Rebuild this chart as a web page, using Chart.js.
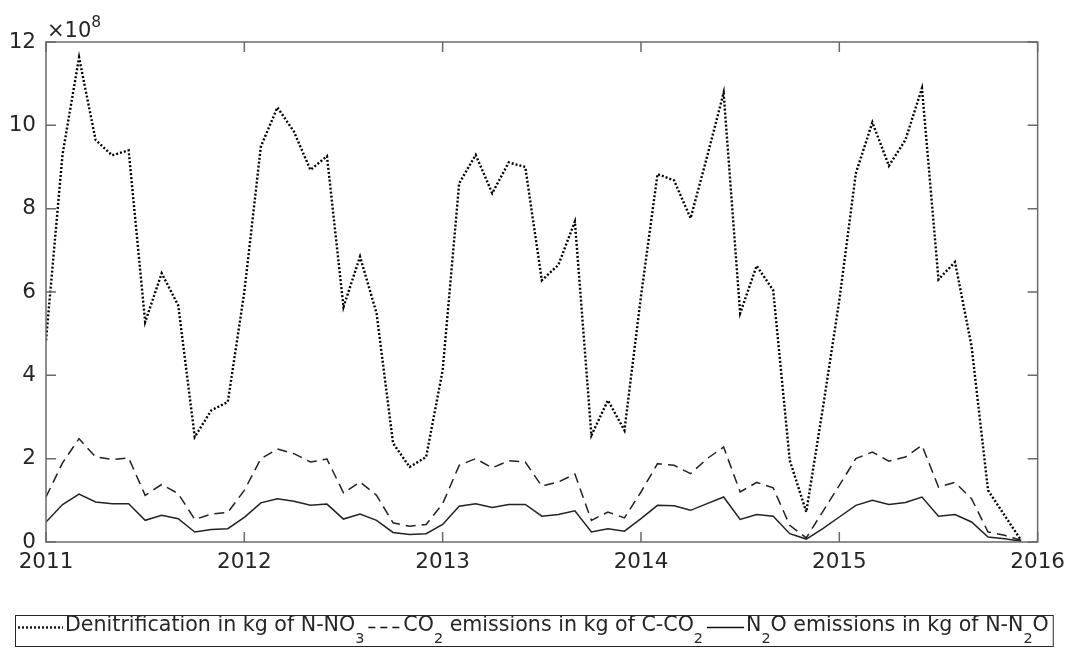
<!DOCTYPE html>
<html>
<head>
<meta charset="utf-8">
<script src="https://cdn.jsdelivr.net/npm/chart.js@4.4.1/dist/chart.umd.min.js"></script>
<style>
  html, body { margin: 0; padding: 0; background: #fff; }
  #wrap { width: 1073px; height: 648px; position: relative; }
</style>
</head>
<body>
<div id="wrap"><canvas id="fig"></canvas></div>
<script>
// monthly values, Jan 2011 .. Dec 2015, in units of 1e8 kg
const startYear = 2011;
const denitrification = [
  4.84, 9.3, 11.63, 9.65, 9.28, 9.4, 5.28, 6.45, 5.68, 2.52, 3.16, 3.36,
  6.0, 9.49, 10.43, 9.85, 8.93, 9.26, 5.64, 6.85, 5.49, 2.37, 1.80, 2.04,
  4.12, 8.61, 9.29, 8.37, 9.11, 9.0, 6.28, 6.65, 7.69, 2.56, 3.40, 2.68,
  5.9, 8.83, 8.68, 7.77, 9.25, 10.78, 5.49, 6.63, 6.04, 1.96, 0.72, 3.2,
  5.8, 8.85, 10.07, 9.03, 9.65, 10.89, 6.30, 6.72, 4.7, 1.24, 0.64, 0.04
];
const co2 = [
  1.08, 1.9, 2.48, 2.04, 1.98, 2.02, 1.12, 1.38, 1.16, 0.54, 0.67, 0.71,
  1.24, 2.0, 2.23, 2.12, 1.92, 1.99, 1.18, 1.44, 1.12, 0.46, 0.38, 0.42,
  0.92, 1.84, 2.0, 1.78, 1.95, 1.92, 1.34, 1.44, 1.63, 0.52, 0.72, 0.58,
  1.20, 1.88, 1.84, 1.64, 2.0, 2.28, 1.20, 1.43, 1.30, 0.40, 0.10, 0.73,
  1.36, 2.0, 2.16, 1.94, 2.04, 2.32, 1.32, 1.43, 1.04, 0.24, 0.16, 0.04
];
const n2o = [
  0.48, 0.90, 1.15, 0.96, 0.92, 0.92, 0.52, 0.64, 0.56, 0.24, 0.30, 0.32,
  0.59, 0.94, 1.04, 0.98, 0.88, 0.91, 0.55, 0.67, 0.52, 0.23, 0.18, 0.20,
  0.42, 0.86, 0.92, 0.83, 0.90, 0.90, 0.62, 0.66, 0.75, 0.24, 0.32, 0.26,
  0.56, 0.88, 0.87, 0.76, 0.92, 1.08, 0.54, 0.66, 0.62, 0.20, 0.07, 0.32,
  0.60, 0.88, 1.00, 0.90, 0.95, 1.08, 0.62, 0.66, 0.48, 0.12, 0.08, 0.02
];
const yearTicks = [2011, 2012, 2013, 2014, 2015, 2016];
const yTicks = [0, 2, 4, 6, 8, 10, 12];
const exponent = "8";

// legend pieces: [text, isSubscript]
const legendItems = [
  { dash: [2, 2], width: 2.4, len: 45, parts: [["Denitrification in kg of N-NO", 0], ["3", 1]] },
  { dash: [7, 5], width: 1.5, len: 33, parts: [["CO", 0], ["2", 1], [" emissions in kg of C-CO", 0], ["2", 1]] },
  { dash: [], width: 1.5, len: 37, parts: [["N", 0], ["2", 1], ["O emissions in kg of N-N", 0], ["2", 1], ["O", 0]] }
];

const months = denitrification.map((_, i) => startYear + i / 12);
const toPts = arr => arr.map((v, i) => ({ x: months[i], y: v }));

const txt = "#262626";
const face = "'DejaVu Sans', sans-serif";
Chart.defaults.font.family = face;
Chart.defaults.font.size = 21.5;
Chart.defaults.color = txt;

const matlabFrame = {
  id: "matlabFrame",
  afterDraw(chart) {
    const ctx = chart.ctx;
    const a = chart.chartArea;
    const xs = chart.scales.x, ys = chart.scales.y;
    ctx.save();
    ctx.strokeStyle = "#6a6a6a";
    ctx.lineWidth = 1.5;
    ctx.strokeRect(a.left, a.top, a.right - a.left, a.bottom - a.top);
    ctx.beginPath();
    yearTicks.forEach(v => {
      const px = xs.getPixelForValue(v);
      ctx.moveTo(px, a.bottom); ctx.lineTo(px, a.bottom - 10);
      ctx.moveTo(px, a.top); ctx.lineTo(px, a.top + 10);
    });
    yTicks.forEach(v => {
      const py = ys.getPixelForValue(v);
      ctx.moveTo(a.left, py); ctx.lineTo(a.left + 10, py);
      ctx.moveTo(a.right, py); ctx.lineTo(a.right - 10, py);
    });
    ctx.stroke();

    // exponent label
    ctx.fillStyle = txt;
    ctx.textBaseline = "alphabetic";
    ctx.textAlign = "left";
    ctx.font = "21px " + face;
    ctx.fillText("\u00d710", a.left + 1, 37);
    const w = ctx.measureText("\u00d710").width;
    ctx.font = "15.5px " + face;
    ctx.fillText(exponent, a.left + 1 + w, 27);

    // legend
    const base = 631, lineY = 627.5;
    let x = 18;
    legendItems.forEach(it => {
      ctx.strokeStyle = "#111";
      ctx.lineWidth = it.width;
      ctx.setLineDash(it.dash);
      ctx.beginPath();
      ctx.moveTo(x, lineY); ctx.lineTo(x + it.len, lineY);
      ctx.stroke();
      ctx.setLineDash([]);
      x += it.len + 2;
      it.parts.forEach(([s, sub]) => {
        ctx.font = (sub ? "14.4px " : "20.6px ") + face;
        ctx.fillText(s, x, sub ? base + 12 : base);
        x += ctx.measureText(s).width;
      });
      x += 4;
    });
    ctx.strokeStyle = "#262626";
    ctx.lineWidth = 1;
    ctx.strokeRect(15.5, 615.5, x - 15, 31);
    ctx.restore();
  }
};

new Chart(document.getElementById("fig"), {
  type: "line",
  data: {
    datasets: [
      {
        label: "Denitrification in kg of N-NO\u2083",
        data: toPts(denitrification),
        borderColor: "#000",
        borderWidth: 2.4,
        borderDash: [2, 2],
      },
      {
        label: "CO\u2082 emissions in kg of C-CO\u2082",
        data: toPts(co2),
        borderColor: "#222",
        borderWidth: 1.5,
        borderDash: [10, 6],
      },
      {
        label: "N\u2082O emissions in kg of N-N\u2082O",
        data: toPts(n2o),
        borderColor: "#222",
        borderWidth: 1.5,
      },
    ],
  },
  options: {
    responsive: true,
    maintainAspectRatio: false,
    animation: false,
    elements: { point: { radius: 0 }, line: { tension: 0, fill: false } },
    layout: { padding: { left: 0, top: 42, right: 30, bottom: 66 } },
    plugins: { legend: { display: false }, tooltip: { enabled: false } },
    scales: {
      x: {
        type: "linear",
        min: 2011,
        max: 2016,
        afterBuildTicks: s => { s.ticks = yearTicks.map(v => ({ value: v })); },
        afterFit: s => { s.height = 40; },
        grid: { display: false, drawTicks: false },
        border: { display: false },
        ticks: { padding: 8, callback: v => String(v), maxRotation: 0 },
      },
      y: {
        min: 0,
        max: 12,
        afterBuildTicks: s => { s.ticks = yTicks.map(v => ({ value: v })); },
        afterFit: s => { s.width = 46; },
        grid: { display: false, drawTicks: false },
        border: { display: false },
        ticks: { padding: 10, callback: v => String(v) },
      },
    },
  },
  plugins: [matlabFrame],
});
</script>
</body>
</html>
